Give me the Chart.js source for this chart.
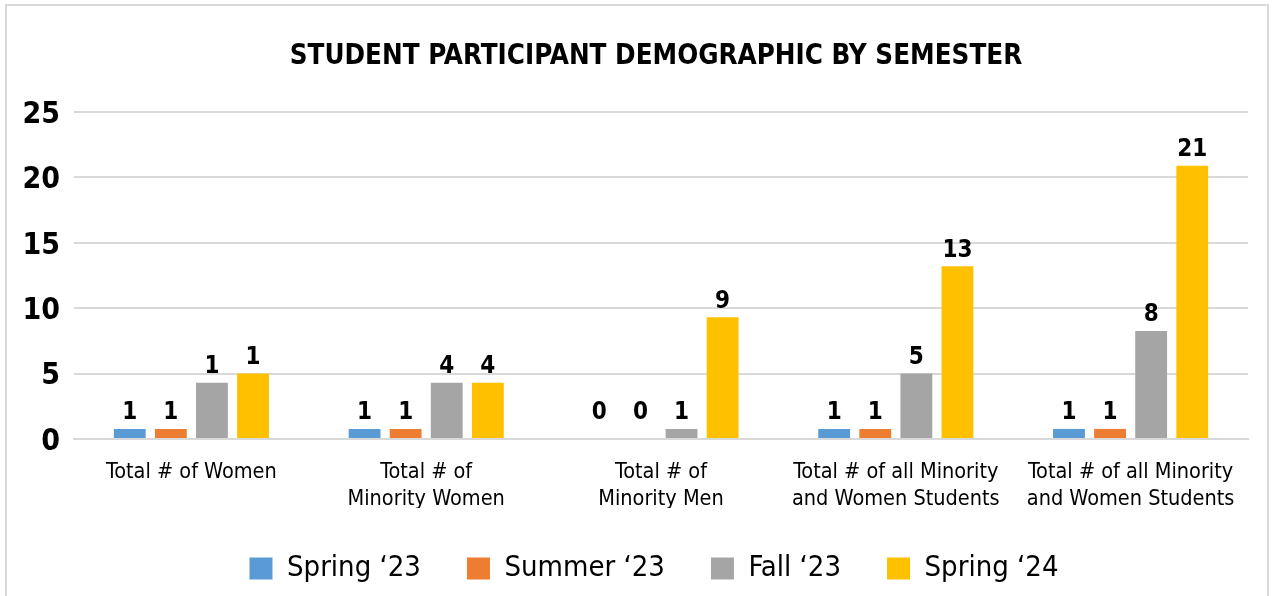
<!DOCTYPE html>
<html>
<head>
<meta charset="utf-8">
<script src="https://cdn.jsdelivr.net/npm/chart.js@4.4.1/dist/chart.umd.min.js"></script>
<style>
  html, body { margin: 0; padding: 0; background: #fff; }
  #frame {
    position: absolute; left: 5px; top: 4px; width: 1264px; height: 600px;
    border: 2px solid #d9d9d9; box-sizing: border-box;
  }
  #wrap { position: absolute; left: 0; top: 0; width: 1273px; height: 596px; }
</style>
</head>
<body>
<div id="frame"></div>
<div id="wrap"><canvas id="chart" width="1273" height="596"></canvas></div>
<script>
// categories (x axis, two lines each)
const categories = [
    ["Total # of Women"],
    ["Total # of", "Minority Women"],
    ["Total # of", "Minority Men"],
    ["Total # of all Minority", "and Women Students"],
    ["Total # of all Minority", "and Women Students"]
];

// semesters
const seriesNames = ["Spring \u201823", "Summer \u201823", "Fall \u201823", "Spring \u201824"];
const seriesColors = ["#5B9BD5", "#ED7D31", "#A5A5A5", "#FFC000"];

// bar heights as drawn in the picture
const spring23 = [0.77, 0.77, 0, 0.77, 0.77];
const summer23 = [0.77, 0.77, 0, 0.77, 0.77];
const fall23 = [4.3, 4.3, 0.77, 5.0, 8.25];
const spring24 = [5.0, 4.3, 9.3, 13.2, 20.9];

// numbers printed above the bars
const spring23Labels = ["1", "1", "0", "1", "1"];
const summer23Labels = ["1", "1", "0", "1", "1"];
const fall23Labels = ["1", "4", "1", "5", "8"];
const spring24Labels = ["1", "4", "9", "13", "21"];

// y axis
const yTicks = [0, 5, 10, 15, 20, 25];

const seriesValues = [spring23, summer23, fall23, spring24];
const seriesLabels = [spring23Labels, summer23Labels, fall23Labels, spring24Labels];

const FONT = '"Liberation Sans Narrow", "DejaVu Sans Condensed", Roboto, sans-serif';

// draw the numbers over each bar
const barLabelPlugin = {
    id: "barLabels",
    afterDatasetsDraw(chart) {
        const ctx = chart.ctx;
        const base = chart.scales.y.getPixelForValue(0);
        ctx.save();
        ctx.font = "bold 24px " + FONT;
        ctx.fillStyle = "#000";
        ctx.textAlign = "center";
        ctx.textBaseline = "bottom";
        chart.data.datasets.forEach((ds, i) => {
            const meta = chart.getDatasetMeta(i);
            meta.data.forEach((bar, j) => {
                const top = Math.min(bar.y, base - 10);
                ctx.fillText(seriesLabels[i][j], bar.x, top - 4);
            });
        });
        ctx.restore();
    }
};

// title and legend sit a bit right of the canvas centre in the original
const shiftPlugin = {
    id: "shiftTitleLegend",
    afterLayout(chart) {
        chart.legend.left += 30;
        chart.legend.right += 30;
        chart.titleBlock.left += 32;
        chart.titleBlock.right += 32;
    }
};

const datasets = seriesNames.map((name, i) => ({
    label: name,
    data: seriesValues[i],
    backgroundColor: seriesColors[i],
    borderWidth: 0,
    categoryPercentage: 0.70,
    barPercentage: 0.775
}));

new Chart(document.getElementById("chart"), {
    type: "bar",
    data: { labels: categories, datasets: datasets },
    plugins: [barLabelPlugin, shiftPlugin],
    options: {
        responsive: false,
        animation: false,
        layout: { padding: { left: 0, right: 25, top: 0, bottom: 3 } },
        plugins: {
            title: {
                display: true,
                text: "STUDENT PARTICIPANT DEMOGRAPHIC BY SEMESTER",
                color: "#000",
                font: { family: FONT, size: 27.5, weight: "bold" },
                padding: { top: 40, bottom: 39 }
            },
            legend: {
                position: "bottom",
                labels: {
                    color: "#000",
                    font: { family: FONT, size: 29 },
                    boxWidth: 23,
                    boxHeight: 22,
                    padding: 46
                }
            },
            tooltip: { enabled: false }
        },
        scales: {
            y: {
                min: 0,
                max: 25,
                afterFit: (s) => { s.width = 74; },
                afterBuildTicks: (s) => { s.ticks = yTicks.map(v => ({ value: v })); },
                ticks: {
                    color: "#000",
                    font: { family: FONT, size: 30, weight: "bold" },
                    padding: 14,
                    labelOffset: 3
                },
                grid: { color: "#d9d9d9", lineWidth: 2, drawTicks: false },
                border: { display: false }
            },
            x: {
                afterFit: (s) => { s.height = 69; },
                ticks: {
                    color: "#000",
                    font: { family: FONT, size: 21.5, lineHeight: 1.25 },
                    padding: 20,
                    maxRotation: 0
                },
                grid: { display: false, drawTicks: false },
                border: { color: "#d9d9d9", width: 2 }
            }
        }
    }
});
</script>
</body>
</html>
